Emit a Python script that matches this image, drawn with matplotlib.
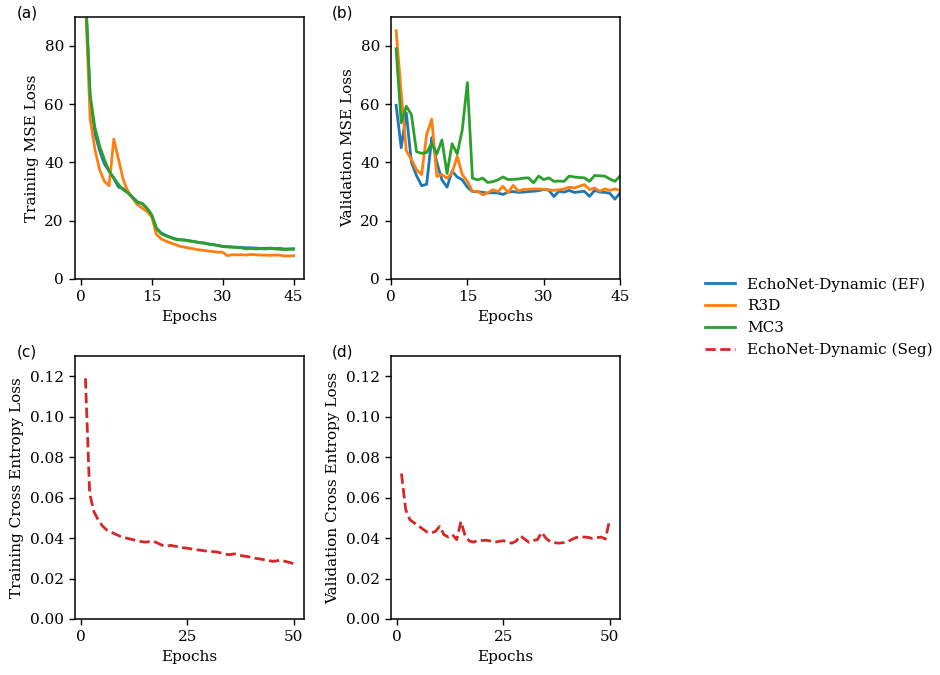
import matplotlib
matplotlib.use('Agg')
from matplotlib import pyplot as plt  # noqa

plt.rcParams['font.family'] = 'DejaVu Serif'
plt.rcParams['font.size'] = 11

# epochs for the EF models and the segmentation model
ef_epochs = list(range(1, 46))
seg_epochs = list(range(1, 51))

train_ef = [98, 62, 50, 44, 39.5, 37, 34.5, 31.5, 31, 29.8, 28, 26.5, 25.8, 24.3, 22,
            17.5, 15.8, 15, 14.3, 13.8, 13.5, 13.4, 13.1, 12.8, 12.5, 12.3, 12.0, 11.8,
            11.5, 11.2, 11.1, 11.0, 10.9, 10.8, 10.7, 10.7, 10.6, 10.5, 10.5, 10.6, 10.4,
            10.5, 10.3, 10.3, 10.4]
train_r3d = [96, 55, 44.5, 37.5, 33.5, 32, 48, 41, 34, 30, 27.7, 25.5, 24.3, 23.2, 21.4,
             15.3, 13.8, 13.0, 12.4, 11.8, 11.2, 10.9, 10.6, 10.3, 10.0, 9.8, 9.6, 9.4,
             9.2, 9.2, 8.0, 8.3, 8.3, 8.3, 8.2, 8.4, 8.3, 8.2, 8.2, 8.1, 8.2, 8.2, 7.9,
             7.9, 8.0]
train_mc3 = [99, 63, 52, 45.6, 41, 37, 34.7, 32.4, 30.6, 29.5, 27.8, 26.2, 26, 24.3, 22,
             17.4, 15.5, 14.8, 14.2, 13.6, 13.4, 13.3, 13.0, 12.9, 12.5, 12.4, 12.0, 11.8,
             11.5, 11.1, 11.0, 10.9, 10.8, 10.7, 10.3, 10.5, 10.3, 10.4, 10.3, 10.5, 10.3,
             10.2, 10.1, 10.2, 10.2]

val_ef = [59.6, 45, 57, 40, 35.5, 32, 32.5, 48.5, 40, 34, 31.5, 37, 35, 34, 31.5,
          30, 30, 29.7, 29.5, 29.6, 29.5, 29.0, 29.8, 30.0, 29.7, 29.8, 30.0, 30.1,
          30.3, 30.7, 30.5, 28.3, 30.1, 29.8, 30.4, 29.7, 29.9, 30.1, 28.3, 30.4, 29.8,
          29.7, 29.4, 27.4, 29.5]
val_r3d = [85.2, 63.9, 44, 41, 37.5, 35.8, 49.6, 54.8, 35.2, 35.8, 34.6, 36.4, 42.1,
           35.8, 33.5, 30.1, 30.1, 28.9, 29.5, 30.6, 30.0, 31.8, 29.6, 32.1, 30.2, 30.7,
           30.8, 30.9, 30.9, 30.8, 30.6, 30.4, 30.6, 30.9, 31.5, 31.2, 31.8, 32.4, 30.7,
           31.2, 30.1, 30.9, 30.4, 30.9, 30.4]
val_mc3 = [79, 53.6, 59.3, 56.4, 43.7, 43.1, 43.4, 46.6, 42.9, 47.7, 36.2, 46.4, 42.9,
           51.2, 67.4, 34.6, 34.0, 34.6, 33.1, 33.4, 34.0, 35.0, 34.1, 34.2, 34.3, 34.6,
           34.7, 33.0, 35.3, 34.1, 34.7, 33.5, 33.6, 33.5, 35.3, 35.0, 34.8, 34.7, 33.5,
           35.5, 35.4, 35.3, 34.3, 33.5, 35.3]

train_seg = [0.119, 0.062, 0.053, 0.049, 0.046, 0.044, 0.043, 0.042, 0.041, 0.0403,
             0.0398, 0.0393, 0.0388, 0.0383, 0.0380, 0.0382, 0.0384, 0.0375, 0.0365,
             0.0358, 0.0364, 0.0360, 0.0357, 0.0352, 0.0350, 0.0346, 0.0343, 0.0340,
             0.0337, 0.0335, 0.0333, 0.0331, 0.0326, 0.0320, 0.0318, 0.0322, 0.0316,
             0.0312, 0.0309, 0.0305, 0.0300, 0.0297, 0.0293, 0.0290, 0.0285, 0.0287,
             0.0292, 0.0285, 0.0280, 0.0273]
val_seg = [0.0719, 0.054, 0.049, 0.0475, 0.046, 0.0445, 0.043, 0.0425, 0.0433, 0.0458,
           0.0417, 0.0405, 0.0417, 0.0392, 0.0482, 0.0410, 0.0385, 0.0380, 0.0389, 0.0388,
           0.0389, 0.0385, 0.0379, 0.0384, 0.0387, 0.0378, 0.0375, 0.0385, 0.0411, 0.0395,
           0.0379, 0.0388, 0.0392, 0.0428, 0.0400, 0.0382, 0.0377, 0.0375, 0.0377, 0.0380,
           0.0392, 0.0402, 0.0405, 0.0405, 0.0403, 0.0398, 0.0402, 0.0405, 0.0395, 0.0489]

LW = 2.0

fig = plt.figure(figsize=(9.4, 6.75), dpi=100)
ax_a = fig.add_axes([0.0798, 0.5867, 0.2436, 0.3886])
ax_b = fig.add_axes([0.4160, 0.5867, 0.2436, 0.3886])
ax_c = fig.add_axes([0.0798, 0.0830, 0.2436, 0.3896])
ax_d = fig.add_axes([0.4160, 0.0830, 0.2436, 0.3896])

for ax in (ax_a, ax_b, ax_c, ax_d):
    for sp in ax.spines.values():
        sp.set_linewidth(1.1)
    ax.tick_params(length=4.5, width=1.0)

ax_a.plot(ef_epochs, train_ef, color='tab:blue', lw=LW, label='EchoNet-Dynamic (EF)')
ax_a.plot(ef_epochs, train_r3d, color='tab:orange', lw=LW, label='R3D')
ax_a.plot(ef_epochs, train_mc3, color='tab:green', lw=LW, label='MC3')
ax_a.set_ylim(0, 90)
ax_a.set_yticks([0, 20, 40, 60, 80])
ax_a.set_xticks([0, 15, 30, 45])
ax_a.set_xlabel('Epochs')
ax_a.set_ylabel('Training MSE Loss')

ax_b.plot(ef_epochs, val_ef, color='tab:blue', lw=LW)
ax_b.plot(ef_epochs, val_r3d, color='tab:orange', lw=LW)
ax_b.plot(ef_epochs, val_mc3, color='tab:green', lw=LW)
ax_b.set_ylim(0, 90)
ax_b.set_yticks([0, 20, 40, 60, 80])
ax_b.set_xlim(0, 45)
ax_b.set_xticks([0, 15, 30, 45])
ax_b.set_xlabel('Epochs')
ax_b.set_ylabel('Validation MSE Loss')

seg_line, = ax_c.plot(seg_epochs, train_seg, color='tab:red', lw=LW, ls='--',
                      label='EchoNet-Dynamic (Seg)')
ax_c.set_ylim(0, 0.13)
ax_c.set_yticks([0, 0.02, 0.04, 0.06, 0.08, 0.10, 0.12])
ax_c.set_xticks([0, 25, 50])
ax_c.set_xlabel('Epochs')
ax_c.set_ylabel('Training Cross Entropy Loss')

ax_d.plot(seg_epochs, val_seg, color='tab:red', lw=LW, ls='--')
ax_d.set_ylim(0, 0.13)
ax_d.set_yticks([0, 0.02, 0.04, 0.06, 0.08, 0.10, 0.12])
ax_d.set_xticks([0, 25, 50])
ax_d.set_xlabel('Epochs')
ax_d.set_ylabel('Validation Cross Entropy Loss')

handles = ax_a.get_lines() + [seg_line]
fig.legend(handles, [h.get_label() for h in handles], loc='center left',
           bbox_to_anchor=(0.735, 0.53), frameon=False)

for label, x, y in [('(a)', 0.018, 0.981), ('(b)', 0.353, 0.981),
                    ('(c)', 0.018, 0.478), ('(d)', 0.353, 0.478)]:
    fig.text(x, y, label, family='DejaVu Sans', va='center', ha='left')

fig.savefig('out.png', dpi=100)
